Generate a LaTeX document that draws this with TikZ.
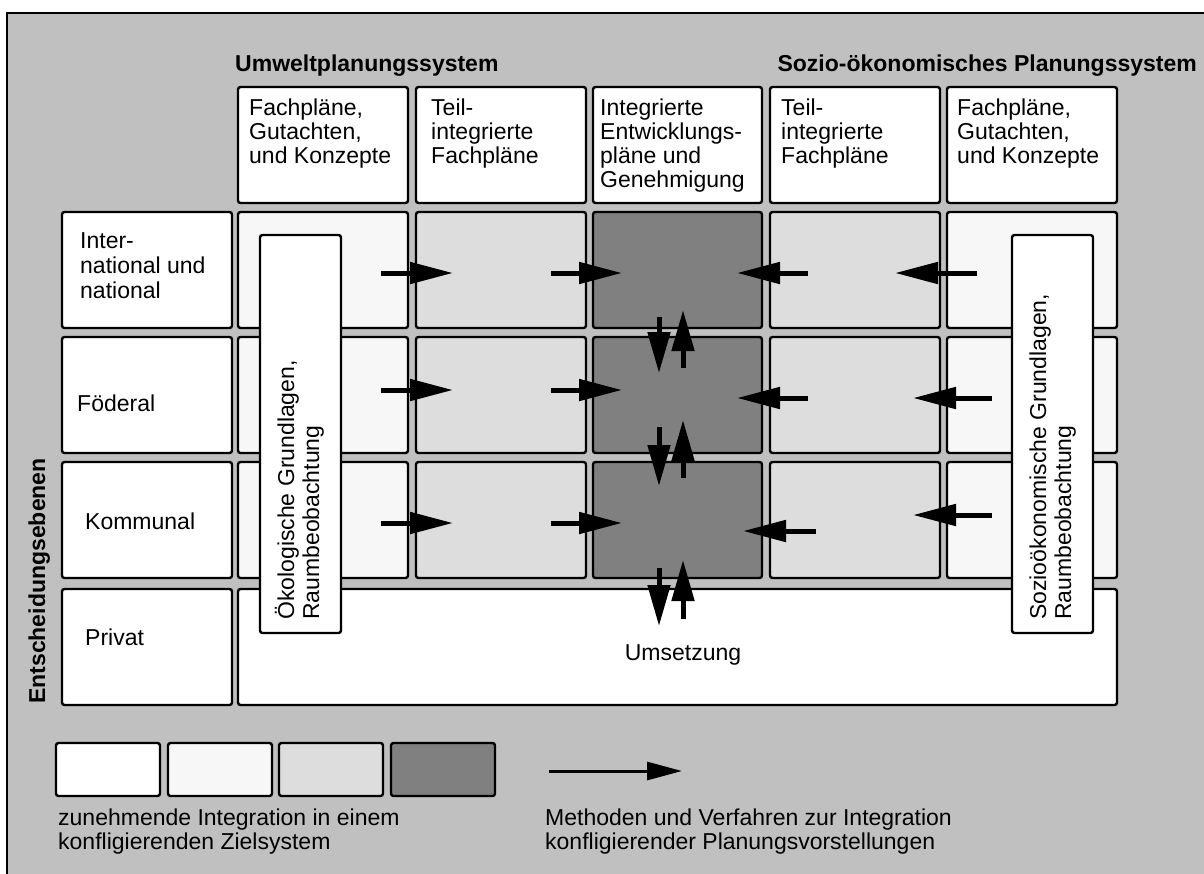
\documentclass[tikz,border=0pt]{standalone}
\usepackage{fontspec}
\setmainfont{Liberation Sans}
\usetikzlibrary{arrows.meta}
\definecolor{bgray}{RGB}{192,192,192}
\definecolor{lvlA}{RGB}{247,247,247}
\definecolor{lvlB}{RGB}{221,221,221}
\definecolor{lvlC}{RGB}{128,128,128}
\begin{document}
\begin{tikzpicture}[x=1pt,y=-1pt,
  cell/.style={draw=black, line width=2.4pt, rounded corners=2.5pt, anchor=north west, inner sep=0pt, outer sep=0pt},
  std/.style={cell, minimum width=170pt, minimum height=116pt},
  lbl/.style={font=\fontsize{23}{24}\selectfont, align=left, inner sep=0pt, anchor=base west},
  lblw/.style={font=\fontsize{23}{25}\selectfont, align=left, inner sep=0pt, anchor=base west},
  ttl/.style={font=\fontsize{23}{24}\selectfont\bfseries, inner sep=0pt},
  bigarrow/.style={line width=5pt, -{Triangle[length=43pt,width=21pt]}},
  varrow/.style={line width=5pt, -{Triangle[length=41pt,width=22pt]}},
  legarrow/.style={line width=3pt, -{Triangle[length=35pt,width=18pt]}}
]
\path[use as bounding box] (0,0) rectangle (1204,873);
\clip (0,0) rectangle (1204,873);
\fill[white] (0,0) rectangle (1204,873);
\draw[line width=2.5pt, fill=bgray] (7,13) rectangle (1240,910);

% titles
\node[ttl, anchor=base west] (t1) at (235,71) {Umweltplanungssystem};
\node[ttl, anchor=base east] (t2) at (1197,71) {Sozio-ökonomisches Planungssystem};

% header cells
\node[std, fill=white] (h1) at (238,87) {};
\node[std, fill=white] (h2) at (416,87) {};
\node[std, fill=white, minimum width=169pt] (h3) at (593,87) {};
\node[std, fill=white] (h4) at (770,87) {};
\node[std, fill=white] (h5) at (947,87) {};
% (base anchor of a multi-line node = baseline of its last line)
\node[lbl] (h1t) at (249,163) {Fachpläne,\\Gutachten,\\und Konzepte};
\node[lbl] (h2t) at (431,163) {Teil-\\integrierte\\Fachpläne};
\node[lbl] (h3t) at (600,187) {Integrierte\\Entwicklungs-\\pläne und\\Genehmigung};
\node[lbl] (h4t) at (781,163) {Teil-\\integrierte\\Fachpläne};
\node[lbl] (h5t) at (957,163) {Fachpläne,\\Gutachten,\\und Konzepte};

% row label cells
\node[std, fill=white] (l1) at (62,212) {};
\node[std, fill=white] (l2) at (62,337) {};
\node[std, fill=white] (l3) at (62,462) {};
\node[std, fill=white] (l4) at (62,589) {};
\node[lblw] (l1t) at (80,298) {Inter-\\national und\\national};
\node[lblw] (l2t) at (77,411) {Föderal};
\node[lblw] (l3t) at (85,529) {Kommunal};
\node[lblw] (l4t) at (85,645) {Privat};
\node[ttl, rotate=90, anchor=base] (ent) at (45,581) {Entscheidungsebenen};

% grid cells
\foreach \r/\yy in {1/212,2/337,3/462}{
  \node[std, fill=lvlA] (c1\r) at (238,\yy) {};
  \node[std, fill=lvlB] (c2\r) at (416,\yy) {};
  \node[std, fill=lvlC, minimum width=169pt] (c3\r) at (593,\yy) {};
  \node[std, fill=lvlB] (c4\r) at (770,\yy) {};
  \node[std, fill=lvlA] (c5\r) at (947,\yy) {};
}
\node[cell, fill=white, minimum width=879pt, minimum height=116pt] (ums) at (238,589) {};
\node[lbl, anchor=base] (umst) at (683,660) {Umsetzung};

% vertical boxes
\node[cell, fill=white, minimum width=81pt, minimum height=398pt] (vl) at (260,235) {};
\node[cell, fill=white, minimum width=81pt, minimum height=398pt] (vr) at (1012,235) {};
\node[lblw, rotate=90] (vlt) at (319,620) {Ökologische Grundlagen,\\Raumbeobachtung};
\node[lblw, rotate=90] (vrt) at (1071,620) {Sozioökonomische Grundlagen,\\Raumbeobachtung};

% horizontal arrows
\foreach \n/\xa/\xb/\yy in {
  a11/381/453/273, a12/551/622/273, a13/808/737/273, a14/977/895/273,
  a21/381/453/390, a22/551/622/390, a23/808/737/398, a24/992/913/398,
  a31/381/453/523, a32/551/622/523, a33/816/743/531, a34/992/913/515}{
  \coordinate (\n s) at (\xa,\yy);
  \coordinate (\n e) at (\xb,\yy);
  \draw[bigarrow] (\n s) -- (\n e);
}
% vertical arrows
\foreach \n/\xx/\ya/\yb in {
  d1/659/317/373, u1/683/368/310,
  d2/659/427/486, u2/683/478/420,
  d3/659/568/626, u3/683/619/560}{
  \coordinate (\n s) at (\xx,\ya);
  \coordinate (\n e) at (\xx,\yb);
  \draw[varrow] (\n s) -- (\n e);
}

% legend
\node[cell, fill=white, minimum width=104pt, minimum height=53pt] (g1) at (56,743) {};
\node[cell, fill=lvlA, minimum width=104pt, minimum height=53pt] (g2) at (168,743) {};
\node[cell, fill=lvlB, minimum width=104pt, minimum height=53pt] (g3) at (279,743) {};
\node[cell, fill=lvlC, minimum width=104pt, minimum height=53pt] (g4) at (391,743) {};
\node[lbl, font=\fontsize{23}{23.5}\selectfont] (gt1) at (58,849) {zunehmende Integration in einem\\konfligierenden Zielsystem};
\coordinate (las) at (549,771);
\coordinate (lae) at (682,771);
\draw[legarrow] (las) -- (lae);
\node[lbl, font=\fontsize{23}{23.5}\selectfont] (gt2) at (545,849) {Methoden und Verfahren zur Integration\\konfligierender Planungsvorstellungen};
\end{tikzpicture}
\end{document}
